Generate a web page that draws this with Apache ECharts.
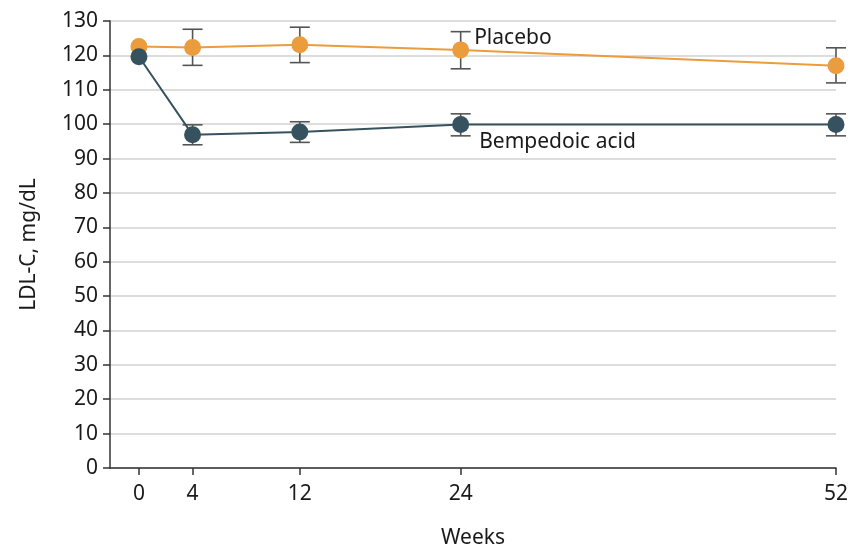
<!DOCTYPE html>
<html>
<head>
<meta charset="utf-8">
<script src="https://cdn.jsdelivr.net/npm/echarts@6/dist/echarts.min.js"></script>
<style>
  html, body { margin: 0; padding: 0; background: #fff; }
  #chart { width: 852px; height: 545px; }
</style>
</head>
<body>
<div id="chart"></div>
<script>
const weeks = [0, 4, 12, 24, 52];

const placeboMean = [122.6, 122.3, 123.1, 121.6, 117.0];
const placeboLow = [null, 117.1, 117.9, 116.1, 112.0];
const placeboHigh = [null, 127.6, 128.2, 126.9, 122.2];

const bempMean = [119.6, 96.9, 97.7, 99.9, 99.9];
const bempLow = [null, 94.0, 94.7, 96.6, 96.6];
const bempHigh = [null, 99.8, 100.7, 103.0, 103.0];

const FONT = "Noto Sans";
const TEXT = "#1a1a1a";

const errorSeries = (low, high) => ({
    type: "custom",
    z: 1,
    silent: true,
    data: weeks.map((w, i) => [w, low[i], high[i]]).filter((d) => d[1] != null),
    renderItem: (params, api) => {
        const lo = api.coord([api.value(0), api.value(1)]);
        const hi = api.coord([api.value(0), api.value(2)]);
        const half = 10;
        const style = { stroke: "#555", lineWidth: 1.6 };
        return {
            type: "group",
            children: [
                { type: "line", shape: { x1: lo[0], y1: lo[1], x2: hi[0], y2: hi[1] }, style },
                { type: "line", shape: { x1: lo[0] - half, y1: lo[1], x2: lo[0] + half, y2: lo[1] }, style },
                { type: "line", shape: { x1: hi[0] - half, y1: hi[1], x2: hi[0] + half, y2: hi[1] }, style },
            ],
        };
    },
});

const lineSeries = (name, mean, color, labelIdx, labelOffset) => ({
    name,
    type: "line",
    z: 3,
    symbol: "circle",
    symbolSize: 17,
    itemStyle: { color },
    lineStyle: { color, width: 2 },
    data: weeks.map((w, i) => {
        const d = { value: [w, mean[i]] };
        if (i === labelIdx) {
            d.label = {
                show: true,
                formatter: name,
                position: "right",
                offset: labelOffset,
                fontFamily: FONT,
                fontSize: 21,
                color: TEXT,
            };
        }
        return d;
    }),
});

const chart = echarts.init(document.getElementById("chart"));
chart.setOption({
    animation: false,
    grid: { left: 110, right: 16, top: 21, bottom: 77, outerBoundsMode: "none" },
    xAxis: {
        type: "value",
        min: -2.16,
        max: 52,
        name: "Weeks",
        nameLocation: "middle",
        nameGap: 60,
        nameTextStyle: { fontFamily: FONT, fontSize: 21, color: TEXT },
        axisLine: { onZero: false, lineStyle: { color: "#333", width: 1.5 } },
        axisTick: { show: true, length: 7, customValues: weeks, lineStyle: { color: "#333", width: 1.5 } },
        axisLabel: { customValues: weeks, margin: 16, fontFamily: FONT, fontSize: 21, color: TEXT },
        splitLine: { show: false },
    },
    yAxis: {
        type: "value",
        min: 0,
        max: 130,
        interval: 10,
        name: "LDL-C, mg/dL",
        nameLocation: "middle",
        nameGap: 70,
        nameTextStyle: { fontFamily: FONT, fontSize: 21, color: TEXT },
        axisLine: { show: true, onZero: false, lineStyle: { color: "#333", width: 1.5 } },
        axisTick: { show: true, length: 7, lineStyle: { color: "#333", width: 1.5 } },
        axisLabel: { margin: 12, fontFamily: FONT, fontSize: 21, color: TEXT },
        splitLine: { lineStyle: { color: "#ddd", width: 2 } },
    },
    series: [
        errorSeries(placeboLow, placeboHigh),
        errorSeries(bempLow, bempHigh),
        lineSeries("Placebo", placeboMean, "#EB9C3D", 3, [0, -12]),
        lineSeries("Bempedoic acid", bempMean, "#37525F", 3, [5, 18]),
    ],
});
</script>
</body>
</html>
